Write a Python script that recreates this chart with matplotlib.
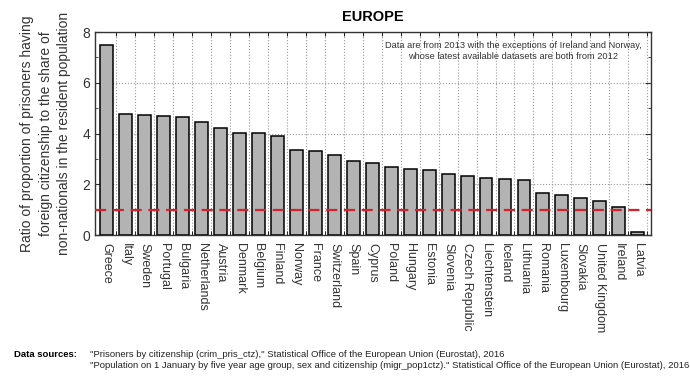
import numpy as np
import matplotlib.pyplot as plt
from matplotlib.ticker import MultipleLocator

plt.rcParams['font.family'] = ['Liberation Sans', 'DejaVu Sans']

countries = ['Greece', 'Italy', 'Sweden', 'Portugal', 'Bulgaria', 'Netherlands',
             'Austria', 'Denmark', 'Belgium', 'Finland', 'Norway', 'France',
             'Switzerland', 'Spain', 'Cyprus', 'Poland', 'Hungary', 'Estonia',
             'Slovenia', 'Czech Republic', 'Liechtenstein', 'Iceland', 'Lithuania',
             'Romania', 'Luxembourg', 'Slovakia', 'United Kingdom', 'Ireland', 'Latvia']
ratios = [7.49, 4.77, 4.72, 4.68, 4.64, 4.47, 4.20, 4.03, 4.01, 3.90, 3.34, 3.32,
          3.17, 2.93, 2.83, 2.68, 2.60, 2.58, 2.42, 2.31, 2.26, 2.19, 2.16,
          1.67, 1.58, 1.45, 1.34, 1.12, 0.10]
parity = 1.0

fig = plt.figure(figsize=(6.9, 3.82), dpi=100)
ax = fig.add_axes([0.1377, 0.3848, 0.8058, 0.5314])

x = np.arange(len(countries))
ax.bar(x, ratios, width=0.68, color='#b3b3b3', edgecolor='black', linewidth=1.1, zorder=3)
ax.axhline(parity, color='#d6202a', linestyle=(0, (5, 3)), linewidth=1.6, zorder=4)

ax.set_xlim(-0.62, len(countries) - 0.3)
ax.set_ylim(0, 8)
ax.set_xticks(x)
ax.set_xticklabels(countries, rotation=270, fontsize=9, color='#333333')
ax.set_xticks(x + 0.5, minor=True)
ax.yaxis.set_major_locator(MultipleLocator(2))
ax.yaxis.set_minor_locator(MultipleLocator(1))
ax.tick_params(axis='x', which='major', length=0, pad=6)
ax.tick_params(axis='x', which='minor', direction='in', length=3, top=True, bottom=True)
ax.tick_params(axis='y', which='both', direction='in', right=True, labelsize=10, colors='#333333')
ax.tick_params(axis='y', which='major', length=4)
ax.tick_params(axis='y', which='minor', length=2)
ax.grid(True, axis='y', which='major', linestyle=':', color='#999999', linewidth=0.8, zorder=0)
ax.grid(True, axis='x', which='minor', linestyle=':', color='#999999', linewidth=0.8, zorder=0)
for s in ax.spines.values():
    s.set_linewidth(1.0)
    s.set_color('#333333')

ax.set_ylabel('Ratio of proportion of prisoners having\nforeign citizenship to the share of\nnon-nationals in the resident population',
              fontsize=10, color='#333333', labelpad=8, linespacing=1.4)
ax.set_title('EUROPE', fontsize=10.5, fontweight='bold', pad=8)
ax.text(0.752, 0.955, 'Data are from 2013 with the exceptions of Ireland and Norway,\n'
        'whose latest available datasets are both from 2012',
        transform=ax.transAxes, ha='center', va='top', fontsize=6.7, color='#333333',
        linespacing=1.25)

fig.text(0.02, 0.073, 'Data sources:', fontsize=6.8, fontweight='bold', va='center')
fig.text(0.13, 0.073, '"Prisoners by citizenship (crim_pris_ctz)," Statistical Office of the European Union (Eurostat), 2016',
         fontsize=6.8, va='center', color='#222222')
fig.text(0.13, 0.042, '"Population on 1 January by five year age group, sex and citizenship (migr_pop1ctz)." Statistical Office of the European Union (Eurostat), 2016',
         fontsize=6.8, va='center', color='#222222')

fig.savefig('out.png', dpi=100)
